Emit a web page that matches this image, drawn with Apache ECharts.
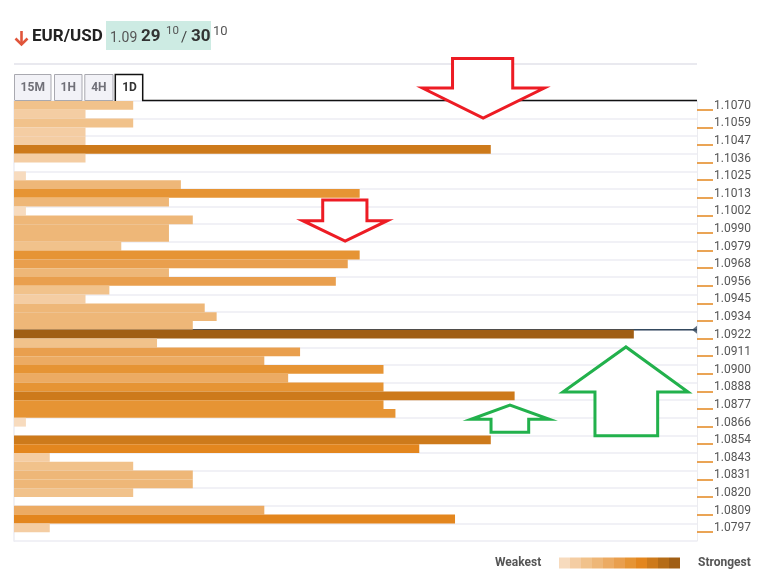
<!DOCTYPE html>
<html><head><meta charset="utf-8">
<script src="https://cdn.jsdelivr.net/npm/echarts@6/dist/echarts.min.js"></script>
<style>html,body{margin:0;padding:0;background:#fff}#c{width:765px;height:585px}</style>
</head><body><div id="c"></div>
<script>
// ---- data ----
const tickLabels = ['1.1070','1.1059','1.1047','1.1036','1.1025','1.1013','1.1002','1.0990','1.0979','1.0968','1.0956','1.0945','1.0934','1.0922','1.0911','1.0900','1.0888','1.0877','1.0866','1.0854','1.0843','1.0831','1.0820','1.0809','1.0797'];
const strengths = [10,6,10,6,6,40,6,0,1,14, 29,13,1,15,13,13,9,29,28,13, 27,8,6,16,17,15,52,12,24,21, 31,23,31,42,31,32,1,0,40,34, 3,10,15,15,10,0,21,37,3,0];
const levels    = [2,1,2,1,1,8,1,0,0,3, 6,3,0,3,3,3,2,6,5,3, 5,2,1,3,3,3,10,2,5,4, 6,4,6,8,6,6,0,0,8,7, 1,2,3,3,2,0,4,7,1,0];
const palette = ['#F7DBBE','#F4CDA3','#F1C28B','#EEB778','#ECAB63','#E99F4E','#E69434','#E3861E','#CD7A1B','#B56C17','#A05E14'];
const currentPriceRow = 26;
const maxStrength = 57.3;
const symbolName = 'EUR/USD';
const quote = {big: '1.09', bid: '29', bidPip: '10', ask: '30', askPip: '10'};
const tabs = ['15M','1H','4H','1D'];
// arrows in data units: x = strength units, y = row boundary index
const arrows = [
  {dir:'down', color:'#ED1C24', tipX:39.36, tipY:1.93, headY:-1.48, headL:34.27, headR:44.49, shaftL:36.79, shaftR:41.84, endY:-4.83},
  {dir:'down', color:'#ED1C24', tipX:27.78, tipY:15.91, headY:13.60, headL:24.22, headR:31.32, shaftL:25.90, shaftR:29.61, endY:11.25},
  {dir:'up', color:'#22B14C', tipX:51.34, tipY:27.95, headY:33.07, headL:46.05, headR:56.55, shaftL:48.74, shaftR:54.0, endY:38.03},
  {dir:'up', color:'#22B14C', tipX:41.61, tipY:34.55, headY:36.17, headL:38.34, headR:44.91, shaftL:40.02, shaftR:43.18, endY:37.65}
];

// ---- build ----
const rowNames = strengths.map((_, i) => String(i));
const slotNames = [];
for (let i = 0; i <= strengths.length; i++) slotNames.push(String(i));
const slotLabel = i => (i % 2 === 1 ? tickLabels[(i - 1) / 2] : '');

const chart = echarts.init(document.getElementById('c'), null, {renderer: 'canvas'});
const FONT = 'Roboto, "Noto Sans", sans-serif';

chart.setOption({
  animation: false,
  textStyle: {fontFamily: FONT},
  grid: {left: 14, right: 68, top: 101, height: 440, containLabel: false},
  xAxis: {type: 'value', min: 0, max: maxStrength, show: false},
  yAxis: [
    {type: 'category', data: rowNames, inverse: true, position: 'left',
     axisLine: {show: true, lineStyle: {color: '#ececf2', width: 1.5}},
     axisTick: {show: false}, axisLabel: {show: false},
     splitLine: {show: true, lineStyle: {color: '#f1f1f6', width: 2}}},
    {type: 'category', data: slotNames, boundaryGap: false, inverse: true, position: 'right',
     axisLine: {show: true, lineStyle: {color: '#ececf0', width: 1}},
     axisTick: {show: true, length: 16, interval: (i) => i % 2 === 1, lineStyle: {color: '#E3861E', width: 1.5}},
     axisLabel: {show: true, interval: (i) => i % 2 === 1, margin: 17, formatter: (v, i) => slotLabel(+v),
       color: '#555', fontSize: 12, fontFamily: FONT, verticalAlign: 'bottom', lineHeight: 8},
     splitLine: {show: false}}
  ],
  series: [
    {type: 'line', yAxisIndex: 1, data: [[0, currentPriceRow], [maxStrength, currentPriceRow]],
     symbol: 'none', silent: true, z: 1, lineStyle: {color: '#34495e', width: 1.5}},
    {type: 'bar', yAxisIndex: 0, barWidth: '100%', barCategoryGap: '0%', z: 3, silent: true,
     data: strengths.map((v, i) => ({value: v, itemStyle: {color: palette[levels[i]]}}))},
    {type: 'scatter', yAxisIndex: 1, data: [[maxStrength, currentPriceRow]], symbol: 'triangle',
     symbolRotate: 90, symbolSize: [8, 5], symbolOffset: [-2.5, 0], z: 6, silent: true,
     itemStyle: {color: '#34495e'}}
  ]
});

// pixel helpers through the chart's own scales
const y0 = chart.convertToPixel({yAxisIndex: 1}, 0);
const y50 = chart.convertToPixel({yAxisIndex: 1}, strengths.length);
const rowPx = r => y0 + (y50 - y0) * r / strengths.length;
const xPx = x => chart.convertToPixel({xAxisIndex: 0}, x);
const gridRight = xPx(maxStrength), gridLeft = xPx(0);

const G = [];
// header separator
G.push({type: 'line', shape: {x1: gridLeft, y1: 64, x2: gridRight, y2: 64}, style: {stroke: '#e9e9ef', lineWidth: 2}});
// header down arrow
G.push({type: 'polyline', shape: {points: [[21.5, 31], [21.5, 45]]}, style: {stroke: '#E0553B', lineWidth: 2.6}});
G.push({type: 'polyline', shape: {points: [[15.5, 38.5], [21.5, 44.5], [27.5, 38.5]]}, style: {stroke: '#E0553B', lineWidth: 2.6, fill: null}});
G.push({type: 'text', x: 32, y: 37, style: {text: symbolName, font: 'bold 17px ' + FONT, fill: '#222', verticalAlign: 'middle'}});
G.push({type: 'rect', shape: {x: 106, y: 21, width: 105, height: 29}, style: {fill: '#CDEBE3'}});
G.push({type: 'text', x: 110, y: 38, style: {text: quote.big, font: '14px ' + FONT, fill: '#555', verticalAlign: 'middle'}});
G.push({type: 'text', x: 141, y: 37, style: {text: quote.bid, font: 'bold 17px ' + FONT, fill: '#333', verticalAlign: 'middle'}});
G.push({type: 'text', x: 166, y: 31.5, style: {text: quote.bidPip, font: '11.5px ' + FONT, fill: '#555', verticalAlign: 'middle'}});
G.push({type: 'text', x: 181, y: 38, style: {text: '/', font: '15px ' + FONT, fill: '#444', verticalAlign: 'middle'}});
G.push({type: 'text', x: 191, y: 37, style: {text: quote.ask, font: 'bold 17px ' + FONT, fill: '#333', verticalAlign: 'middle'}});
G.push({type: 'text', x: 213, y: 32, style: {text: quote.askPip, font: '13px ' + FONT, fill: '#555', verticalAlign: 'middle'}});
// tabs
const tabBoxes = [[14, 36.5], [54, 27.5], [84.3, 28.2], [115.3, 27.4]];
tabs.forEach((t, i) => {
  const [x, w] = tabBoxes[i];
  const active = i === tabs.length - 1;
  if (active) {
    G.push({type: 'polyline', shape: {points: [[x, 101], [x, 74.5], [x + w, 74.5], [x + w, 100.5], [gridRight, 100.5]]},
      style: {stroke: '#111', lineWidth: 1.5, fill: null}});
  } else {
    G.push({type: 'rect', shape: {x: x + 0.5, y: 74.5, width: w, height: 26}, style: {fill: '#f2f2f7', stroke: '#a9a9b0', lineWidth: 1}});
  }
  G.push({type: 'text', x: x + w / 2 + 0.5, y: 88, style: {text: t, font: 'bold 12px ' + FONT, fill: active ? '#333' : '#707078', align: 'center', verticalAlign: 'middle'}});
});
// legend
G.push({type: 'text', x: 495, y: 563, style: {text: 'Weakest', font: 'bold 12px ' + FONT, fill: '#555', verticalAlign: 'middle'}});
palette.forEach((c, i) => {
  G.push({type: 'rect', shape: {x: 559 + i * 11, y: 557.5, width: 11, height: 11}, style: {fill: c}});
});
G.push({type: 'text', x: 698, y: 563, style: {text: 'Strongest', font: 'bold 12px ' + FONT, fill: '#555', verticalAlign: 'middle'}});
// arrows
arrows.forEach(a => {
  const pts = [
    [a.shaftL, a.endY], [a.shaftR, a.endY], [a.shaftR, a.headY], [a.headR, a.headY],
    [a.tipX, a.tipY], [a.headL, a.headY], [a.shaftL, a.headY]
  ].map(p => [xPx(p[0]), rowPx(p[1])]);
  G.push({type: 'polygon', z: 100, shape: {points: pts}, style: {fill: '#fff', stroke: a.color, lineWidth: 3, lineJoin: 'miter'}});
});

chart.setOption({graphic: {elements: G}});
</script>
</body></html>
